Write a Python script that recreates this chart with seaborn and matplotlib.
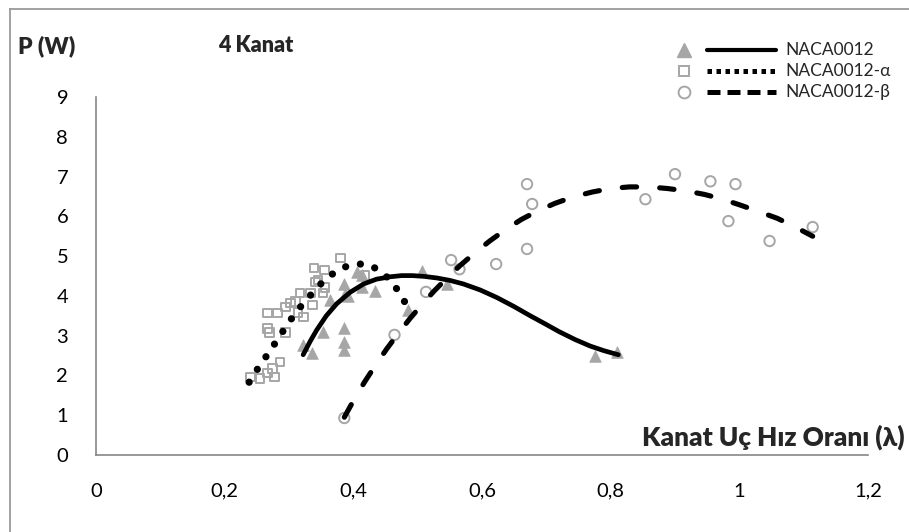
import numpy as np
import pandas as pd
import matplotlib
matplotlib.use("Agg")
import matplotlib.pyplot as plt
import seaborn as sns
from matplotlib.lines import Line2D

# ---------------- data ----------------
tri_x = [0.322, 0.336, 0.353, 0.364, 0.385, 0.385, 0.385, 0.385, 0.387, 0.392,
         0.405, 0.413, 0.413, 0.434, 0.507, 0.485, 0.545, 0.776, 0.81]
tri_y = [2.76, 2.56, 3.10, 3.90, 4.30, 3.20, 2.85, 2.64, 4.05, 4.00,
         4.60, 4.52, 4.22, 4.12, 4.62, 3.65, 4.30, 2.50, 2.60]

sq_x = [0.240, 0.255, 0.267, 0.278, 0.274, 0.286, 0.267, 0.270, 0.266, 0.282,
        0.294, 0.302, 0.310, 0.314, 0.322, 0.294, 0.317, 0.333, 0.341, 0.353,
        0.336, 0.380, 0.339, 0.355, 0.345, 0.356, 0.418]
sq_y = [1.96, 1.93, 2.06, 1.96, 2.18, 2.34, 3.19, 3.07, 3.57, 3.57,
        3.72, 3.82, 3.85, 3.59, 3.47, 3.07, 4.07, 4.07, 4.35, 4.07,
        3.77, 4.95, 4.70, 4.65, 4.40, 4.22, 4.52]

cir_x = [0.386, 0.464, 0.513, 0.552, 0.565, 0.622, 0.670, 0.670, 0.678, 0.854,
         0.900, 0.955, 0.983, 0.994, 1.047, 1.114]
cir_y = [0.93, 3.02, 4.10, 4.90, 4.67, 4.80, 5.18, 6.81, 6.31, 6.43,
         7.06, 6.88, 5.88, 6.81, 5.38, 5.73]

# trend curves
sol_x = [0.322, 0.333, 0.343, 0.358, 0.374, 0.395, 0.416, 0.436, 0.457, 0.475,
         0.492, 0.510, 0.530, 0.550, 0.571, 0.597, 0.623, 0.650, 0.675, 0.700,
         0.720, 0.745, 0.768, 0.790, 0.812]
sol_y = [2.52, 2.86, 3.14, 3.50, 3.80, 4.09, 4.30, 4.42, 4.48, 4.51,
         4.51, 4.49, 4.45, 4.39, 4.30, 4.15, 3.96, 3.73, 3.50, 3.28,
         3.10, 2.90, 2.74, 2.62, 2.52]

alp_x = [0.238, 0.251, 0.265, 0.280, 0.293, 0.307, 0.322, 0.338, 0.355, 0.376,
         0.398, 0.422, 0.443, 0.461, 0.474, 0.487]
alp_y = [1.83, 2.16, 2.49, 2.85, 3.17, 3.50, 3.81, 4.10, 4.40, 4.65,
         4.80, 4.80, 4.62, 4.33, 4.02, 3.64]

bet_x = [0.386, 0.401, 0.418, 0.435, 0.452, 0.470, 0.488, 0.507, 0.526, 0.545,
         0.565, 0.588, 0.612, 0.636, 0.661, 0.687, 0.714, 0.742, 0.771, 0.800,
         0.829, 0.859, 0.888, 0.917, 0.946, 0.974, 1.002, 1.030, 1.059, 1.086, 1.114]
bet_y = [0.95, 1.39, 1.85, 2.27, 2.67, 3.06, 3.43, 3.79, 4.13, 4.44,
         4.75, 5.07, 5.38, 5.66, 5.92, 6.14, 6.33, 6.49, 6.61, 6.70,
         6.74, 6.74, 6.70, 6.64, 6.55, 6.43, 6.28, 6.12, 5.95, 5.74, 5.50]

x_ticks = [0, 0.2, 0.4, 0.6, 0.8, 1.0, 1.2]
x_tick_labels = ["0", "0,2", "0,4", "0,6", "0,8", "1", "1,2"]
y_ticks = list(range(0, 10))

series_names = ["NACA0012", "NACA0012-α", "NACA0012-β"]

# ---------------- figure ----------------
sns.set_theme(style="white")
plt.rcParams["font.family"] = ["Lato", "DejaVu Sans"]

W, H = 909, 532
fig = plt.figure(figsize=(W / 100, H / 100), dpi=100)
ax = fig.add_axes([96 / W, 1 - 455 / H, (868 - 96) / W, (455 - 97) / H])

gray = "#A6A6A6"
axis_gray = "#868686"

sns.scatterplot(x=tri_x, y=tri_y, ax=ax, marker="^", s=70, color=gray,
                edgecolor=gray, linewidth=0.5, zorder=2)
sns.scatterplot(x=sq_x, y=sq_y, ax=ax, marker="s", s=40, facecolor="none",
                edgecolor=gray, linewidth=1.4, zorder=2)
sns.scatterplot(x=cir_x, y=cir_y, ax=ax, marker="o", s=56, facecolor="none",
                edgecolor=gray, linewidth=1.4, zorder=2)

df_sol = pd.DataFrame({"x": sol_x, "y": sol_y})
df_alp = pd.DataFrame({"x": alp_x, "y": alp_y})
df_bet = pd.DataFrame({"x": bet_x, "y": bet_y})

sns.lineplot(data=df_sol, x="x", y="y", ax=ax, sort=False, estimator=None,
             color="black", linewidth=3.4, solid_capstyle="round",
             solid_joinstyle="round", zorder=4)
sns.lineplot(data=df_alp, x="x", y="y", ax=ax, sort=False, estimator=None,
             color="black", linewidth=5.2, linestyle=(0, (0.01, 2.1)),
             dash_capstyle="round", zorder=4)
sns.lineplot(data=df_bet, x="x", y="y", ax=ax, sort=False, estimator=None,
             color="black", linewidth=3.7, linestyle=(0, (2.8, 4.5)),
             dash_capstyle="round", zorder=4)

ax.set_xlim(0, 1.2)
ax.set_ylim(0, 9)
ax.set_xticks(x_ticks)
ax.set_xticklabels(x_tick_labels)
ax.set_yticks(y_ticks)
ax.set_xlabel("")
ax.set_ylabel("")
for s in ["top", "right"]:
    ax.spines[s].set_visible(False)
for s in ["left", "bottom"]:
    ax.spines[s].set_color(axis_gray)
    ax.spines[s].set_linewidth(1.2)
ax.tick_params(axis="both", which="both", direction="out", length=6,
               width=1.2, color=axis_gray, labelsize=14.5, labelcolor="black")
ax.tick_params(axis="y", pad=14)
ax.tick_params(axis="x", pad=14)
ax.grid(False)

# titles
bold = dict(fontweight="heavy", family=["Lato", "DejaVu Sans"])
fig.text(18 / W, 1 - 46 / H, "P (W)", fontsize=16.5, ha="left", va="center", **bold)
fig.text(218 / W, 1 - 46 / H, "4 Kanat", fontsize=15.5, ha="left", va="center", **bold)
fig.text(905 / W, 1 - 437 / H, "Kanat Uç Hız Oranı (λ)", fontsize=18.8,
         ha="right", va="center", **bold)

# legend (drawn manually, Excel style: marker, line sample, label)
rows = [50, 71, 92]
mk = [dict(marker="^", markersize=10, color=gray, mfc=gray, mec=gray),
      dict(marker="s", markersize=7.5, color=gray, mfc="none", mec=gray, mew=1.4),
      dict(marker="o", markersize=8.5, color=gray, mfc="none", mec=gray, mew=1.4)]
ls = [dict(linestyle="-", linewidth=3.0),
      dict(linestyle=(0, (0.9, 0.9)), linewidth=3.6, dash_capstyle="butt"),
      dict(linestyle=(0, (2.6, 1.4)), linewidth=3.6, dash_capstyle="butt")]
for yy, name, m, l in zip(rows, series_names, mk, ls):
    yf = 1 - yy / H
    fig.add_artist(Line2D([684 / W], [yf], linestyle="none", **m))
    fig.add_artist(Line2D([707 / W, 776 / W], [yf, yf], color="black", **l))
    fig.text(785 / W, yf, name, fontsize=12.5, ha="left", va="center")

# outer chart border (left and top edges visible in the reference)
bx, by = 9.5 / W, 1 - 8.5 / H
fig.add_artist(Line2D([bx, bx], [0, by], color="#9A9A9A", linewidth=1.3,
                      solid_capstyle="projecting"))
fig.add_artist(Line2D([bx, 1], [by, by], color="#9A9A9A", linewidth=1.3,
                      solid_capstyle="projecting"))

fig.savefig("out.png", dpi=100)
